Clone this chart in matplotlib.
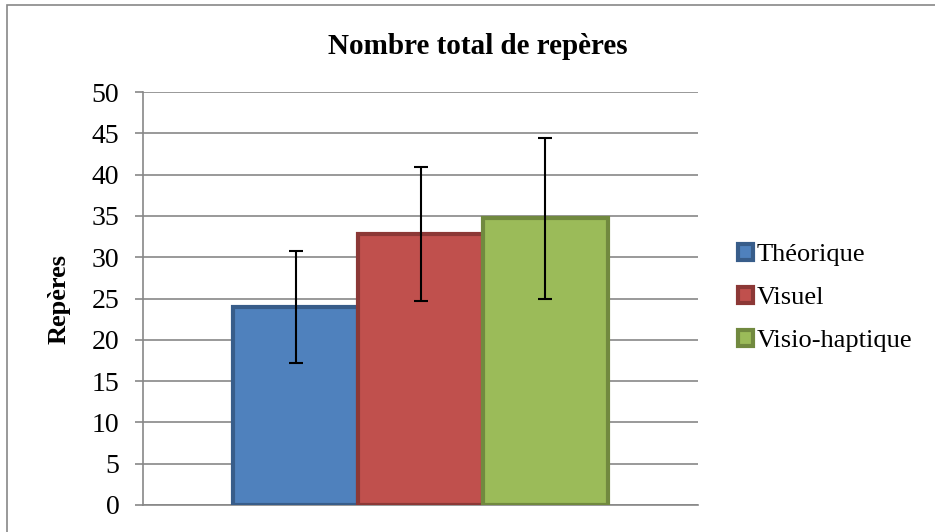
import numpy as np
import matplotlib.pyplot as plt
from matplotlib.patches import Rectangle

# Données
series = ['Théorique', 'Visuel', 'Visio-haptique']
values = [24.0, 32.8, 34.7]
errors = [6.8, 8.1, 9.7]
fill_colors = ['#4F81BD', '#C0504D', '#9BBB59']
edge_colors = ['#385D8A', '#8C3836', '#71893F']
yticks = [0, 5, 10, 15, 20, 25, 30, 35, 40, 45, 50]

plt.rcParams['font.family'] = ['Liberation Serif', 'DejaVu Serif']

fig = plt.figure(figsize=(9.35, 5.32), dpi=100)
ax = fig.add_axes([143/935, 27/532, 555/935, 413/532])

width = 0.2248
offsets = (np.arange(len(series)) - 1) * width
for i, name in enumerate(series):
    ax.bar(offsets[i], values[i], width, color=fill_colors[i],
           edgecolor=edge_colors[i], linewidth=3, label=name, zorder=3)
    ax.errorbar(offsets[i], values[i], yerr=errors[i], fmt='none',
                ecolor='black', elinewidth=1.5, capsize=5, capthick=1.5, zorder=4)

ax.set_xlim(-0.5, 0.5)
ax.set_ylim(0, 50)
ax.set_yticks(yticks)
ax.set_xticks([])
ax.tick_params(axis='y', labelsize=20, length=6, width=1.2, color='#878787', pad=11)
ax.yaxis.grid(True, color='#878787', linewidth=1.2, zorder=0)
for side in ['top', 'right']:
    ax.spines[side].set_visible(False)
for side in ['left', 'bottom']:
    ax.spines[side].set_color('#878787')
    ax.spines[side].set_linewidth(1.2)

ax.set_ylabel('Repères', fontsize=19, fontweight='bold', labelpad=15)
fig.text(478/935, 1 - 47/532, 'Nombre total de repères', ha='center', va='center',
         fontsize=21, fontweight='bold')

ax.legend(loc='center left', bbox_to_anchor=(725/935, 1 - 298/532),
          bbox_transform=fig.transFigure, frameon=False, fontsize=19,
          handlelength=0.55, handleheight=0.55, handletextpad=0.15,
          labelspacing=0.78, borderpad=0)

fig.patches.append(Rectangle((7/935, -0.05), 1.0, 1 - 5/532 + 0.05,
                             transform=fig.transFigure, fill=False,
                             edgecolor='#878787', linewidth=1.2))

fig.savefig('out.png', dpi=100)
